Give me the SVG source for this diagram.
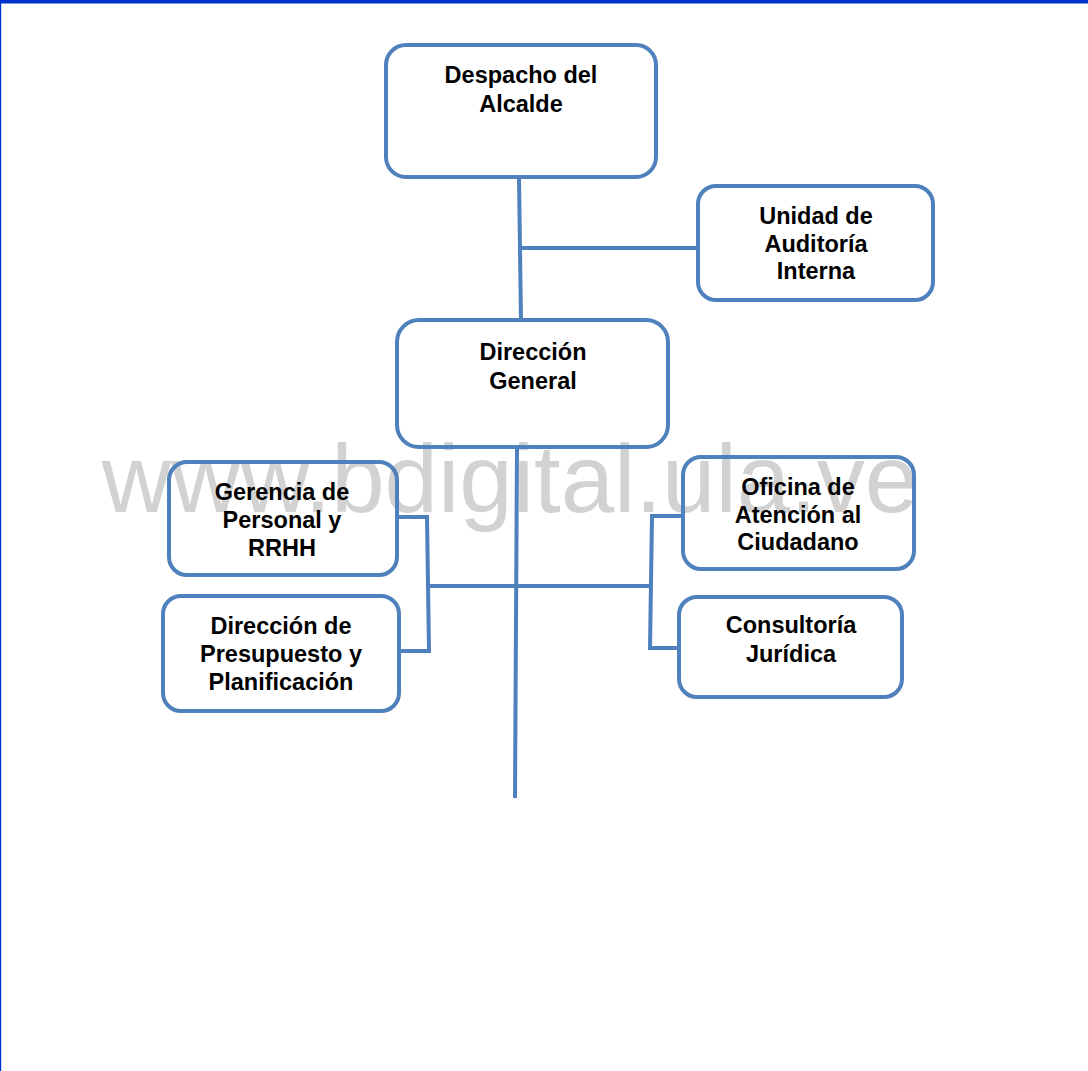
<svg xmlns="http://www.w3.org/2000/svg" width="1088" height="1071" viewBox="0 0 1088 1071">
  <style>
    .box { fill: none; stroke: #4F81BD; stroke-width: 4; }
    .lbl { font-family: "Liberation Sans", Arial, sans-serif; font-weight: bold; font-size: 23.5px; fill: #000; text-anchor: middle; }
    .wire { fill: none; stroke: #4F81BD; stroke-width: 4; }
    .mark { font-family: "Liberation Sans", Arial, sans-serif; font-size: 96px; fill: #d2d2d2; text-anchor: middle; }
  </style>

  <!-- page background and frame -->
  <rect x="0" y="0" width="1088" height="1071" fill="#ffffff"/>
  <rect x="0" y="0" width="1088" height="3.5" fill="#0033CC"/>
  <rect x="0" y="0" width="1.2" height="1071" fill="#0033CC"/>

  <!-- watermark -->
  <text class="mark" x="510" y="512">www.bdigital.ula.ve</text>

  <!-- connectors -->
  <g id="connectors">
    <line class="wire" x1="519" y1="177" x2="521" y2="321"/>
    <line class="wire" x1="520" y1="248" x2="698" y2="248"/>
    <line class="wire" x1="517" y1="447" x2="515" y2="798"/>
    <line class="wire" x1="428" y1="586" x2="650" y2="586"/>
    <polyline class="wire" points="397,517 427,517 429,651 399,651"/>
    <polyline class="wire" points="683,516 652,516 650,648 679,648"/>
  </g>

  <!-- nodes -->
  <g id="despacho">
    <rect class="box" x="386" y="45" width="270" height="132" rx="20"/>
    <text class="lbl" x="521" y="83">Despacho del</text>
    <text class="lbl" x="521" y="112">Alcalde</text>
  </g>

  <g id="auditoria">
    <rect class="box" x="698" y="186" width="235" height="114" rx="18"/>
    <text class="lbl" x="816" y="224">Unidad de</text>
    <text class="lbl" x="816" y="252">Auditoría</text>
    <text class="lbl" x="816" y="279">Interna</text>
  </g>

  <g id="direccion-general">
    <rect class="box" x="397" y="320" width="271" height="127" rx="22"/>
    <text class="lbl" x="533" y="360">Dirección</text>
    <text class="lbl" x="533" y="389">General</text>
  </g>

  <g id="gerencia-personal">
    <rect class="box" x="169" y="462" width="228" height="113" rx="18"/>
    <text class="lbl" x="282" y="500">Gerencia de</text>
    <text class="lbl" x="282" y="528">Personal y</text>
    <text class="lbl" x="282" y="556">RRHH</text>
  </g>

  <g id="presupuesto">
    <rect class="box" x="163" y="596" width="236" height="115" rx="18"/>
    <text class="lbl" x="281" y="634">Dirección de</text>
    <text class="lbl" x="281" y="662">Presupuesto y</text>
    <text class="lbl" x="281" y="690">Planificación</text>
  </g>

  <g id="atencion-ciudadano">
    <rect class="box" x="683" y="457" width="231" height="112" rx="18"/>
    <text class="lbl" x="798" y="495">Oficina de</text>
    <text class="lbl" x="798" y="523">Atención al</text>
    <text class="lbl" x="798" y="550">Ciudadano</text>
  </g>

  <g id="consultoria">
    <rect class="box" x="679" y="597" width="223" height="100" rx="18"/>
    <text class="lbl" x="791" y="633">Consultoría</text>
    <text class="lbl" x="791" y="662">Jurídica</text>
  </g>
</svg>
